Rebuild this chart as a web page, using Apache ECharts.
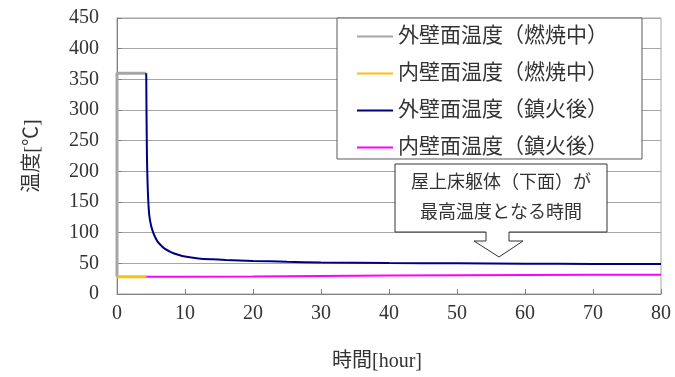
<!DOCTYPE html>
<html>
<head>
<meta charset="utf-8">
<script src="https://cdn.jsdelivr.net/npm/echarts@6/dist/echarts.min.js"></script>
<style>html,body{margin:0;padding:0;background:#fff;}#c{width:675px;height:377px;}</style>
</head>
<body>
<div id="c"></div>
<script>
const seriesNames = ['外壁面温度（燃焼中）','内壁面温度（燃焼中）','外壁面温度（鎮火後）','内壁面温度（鎮火後）'];
const xTicks = [0,10,20,30,40,50,60,70,80];
const yTicks = [0,50,100,150,200,250,300,350,400,450];
// 燃焼中
const tOuterBurn = [0, 0, 4.3];
const vOuterBurn = [28, 360, 360];
const tInnerBurn = [0, 4.3];
const vInnerBurn = [28, 28];
// 鎮火後
const tOuterAfter = [4.3, 4.33, 4.37, 4.42, 4.5, 4.6, 4.75, 5.0, 5.3, 5.6, 6.0, 6.5, 7.0, 8.0, 9.0, 10, 12, 14, 16, 18, 20, 25, 30, 40, 50, 60, 70, 80];
const vOuterAfter = [360, 310, 260, 215, 180, 152, 128, 112, 101, 93, 85, 79, 74, 68, 64, 61, 58, 56.5, 55.5, 54.8, 54, 52.5, 51.5, 50.5, 50, 49.5, 49, 49];
const tInnerAfter = [4.3, 10, 20, 30, 40, 50, 60, 70, 80];
const vInnerAfter = [28, 28, 28.5, 29.5, 30, 30.5, 31, 31.5, 31.5];
const noteLines = ['屋上床躯体（下面）が', '最高温度となる時間'];

const zip = (a, b) => a.map((x, i) => [x, b[i]]);
const FONT = '"Liberation Serif", "Noto Sans CJK JP", serif';

const chart = echarts.init(document.getElementById('c'), null, {renderer: 'canvas'});
const option = {
  animation: false,
  backgroundColor: '#fff',
  textStyle: {fontFamily: FONT},
  grid: {left: 117, right: 14, top: 18, bottom: 83, show: true, borderColor: '#a6a6a6', borderWidth: 1},
  xAxis: {
    type: 'value', min: xTicks[0], max: xTicks[xTicks.length-1], interval: 10,
    name: '時間[hour]', nameLocation: 'middle', nameGap: 58,
    nameTextStyle: {fontFamily: FONT, fontSize: 20, color: '#333', padding: [0, 24, 0, 0]},
    axisLine: {show: true, lineStyle: {color: '#808080', width: 1}},
    axisTick: {show: true, inside: true, length: 5, lineStyle: {color: '#808080'}},
    axisLabel: {fontFamily: FONT, fontSize: 20, color: '#333', margin: 10},
    splitLine: {show: false}
  },
  yAxis: {
    type: 'value', min: yTicks[0], max: yTicks[yTicks.length-1], interval: 50,
    name: '温度[℃]', nameLocation: 'middle', nameGap: 74, nameRotate: 90,
    nameTextStyle: {fontFamily: FONT, fontSize: 20, color: '#333'},
    axisLine: {show: true, lineStyle: {color: '#808080', width: 1}},
    axisTick: {show: true, inside: true, length: 5, lineStyle: {color: '#808080'}},
    axisLabel: {fontFamily: FONT, fontSize: 20, color: '#333', margin: 18},
    splitLine: {show: true, lineStyle: {color: '#a6a6a6', width: 1}}
  },
  legend: {
    show: true, orient: 'vertical', left: 337, top: 18,
    padding: [8, 34, 1, 20], itemGap: 16, itemWidth: 36, itemHeight: 2,
    icon: 'rect',
    backgroundColor: '#fff', borderColor: '#595959', borderWidth: 1,
    textStyle: {fontFamily: FONT, fontSize: 21, color: '#333'},
    data: seriesNames
  },
  series: [
    {name: seriesNames[0], type: 'line', symbol: 'none', data: zip(tOuterBurn, vOuterBurn), lineStyle: {color: '#a6a6a6', width: 3}, itemStyle: {color: '#a6a6a6'}, z: 2},
    {name: seriesNames[1], type: 'line', symbol: 'none', data: zip(tInnerBurn, vInnerBurn), lineStyle: {color: '#ffc000', width: 3}, itemStyle: {color: '#ffc000'}, z: 3},
    {name: seriesNames[2], type: 'line', symbol: 'none', smooth: 0.3, data: zip(tOuterAfter, vOuterAfter), lineStyle: {color: '#000080', width: 2}, itemStyle: {color: '#000080'}, z: 4},
    {name: seriesNames[3], type: 'line', symbol: 'none', data: zip(tInnerAfter, vInnerAfter), lineStyle: {color: '#ff00ff', width: 2}, itemStyle: {color: '#ff00ff'}, z: 4}
  ],
  graphic: [
    {
      type: 'polygon', z: 100,
      shape: {points: [[395,164],[607,164],[607,232],[509,232],[509,241],[523,241],[499,257],[474,241],[486,241],[486,232],[395,232]]},
      style: {fill: '#fff', stroke: '#333', lineWidth: 1}
    },
    {type: 'text', z: 101, style: {text: noteLines[0], x: 501, y: 183, textAlign: 'center', textVerticalAlign: 'middle', font: '18px ' + FONT, fill: '#333'}},
    {type: 'text', z: 101, style: {text: noteLines[1], x: 501, y: 213, textAlign: 'center', textVerticalAlign: 'middle', font: '18px ' + FONT, fill: '#333'}}
  ]
};
chart.setOption(option);
</script>
</body>
</html>
